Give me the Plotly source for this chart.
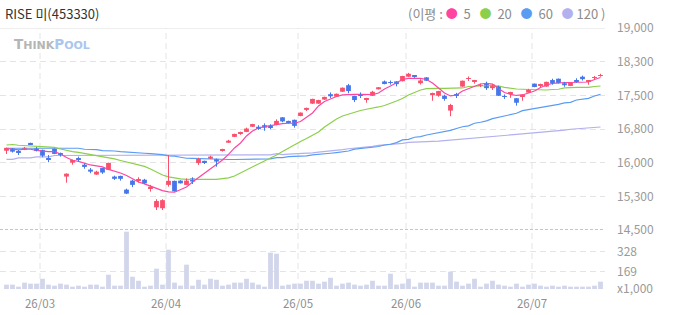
import plotly.graph_objects as go

# ---------------- data ----------------
opens = [16265,16320,16240,16285,16440,16320,16285,16090,16310,16195,
         15690,16000,16100,15955,15845,15735,15880,15840,15690,15705,
         15400,15600,15600,15620,15430,15005,14985,15505,15595,15600,
         15505,15650,15990,16040,16085,16085,16270,16445,16575,16640,
         16685,16800,16800,16835,16820,16840,17010,16930,16955,17040,
         17175,17315,17315,17405,17525,17470,17580,17725,17485,17525,
         17410,17490,17635,17810,17785,17810,17815,17915,17945,17770,
         17900,17515,17490,17490,17160,17530,17695,17870,17805,17710,
         17770,17660,17710,17485,17530,17435,17485,17560,17760,17710,
         17695,17840,17870,17770,17710,17840,17915,17798,17890,17935]
highs = [16335,16325,16285,16350,16445,16350,16290,16170,16315,16225,
         15760,16070,16135,15985,15880,15820,15885,16000,15710,15710,
         15420,15620,15675,15640,15505,15185,15185,16170,15600,15610,
         15650,15675,16110,16045,16155,16090,16310,16510,16645,16690,
         16780,16865,16835,16875,16855,16965,17015,16935,16960,17120,
         17225,17425,17400,17470,17565,17540,17675,17755,17490,17565,
         17445,17600,17685,17830,17830,17815,17935,18000,17950,17860,
         17905,17560,17600,17515,17310,17555,17830,17920,17845,17760,
         17805,17750,17715,17520,17580,17440,17520,17645,17765,17760,
         17805,17870,17875,17800,17780,17880,17940,17825,17930,17980]
lows = [16195,16225,16170,16280,16395,16250,16120,16010,16190,16135,
        15555,15955,16025,15865,15765,15730,15750,15835,15615,15600,
        15300,15455,15555,15520,15355,14945,14945,15465,15355,15535,
        15500,15525,15950,15970,16080,15910,16245,16440,16570,16620,
        16680,16795,16730,16710,16745,16835,16900,16875,16780,17035,
        17150,17310,17310,17400,17440,17465,17575,17545,17350,17440,
        17335,17485,17630,17745,17740,17700,17810,17910,17890,17740,
        17820,17380,17470,17380,17035,17440,17690,17820,17760,17685,
        17620,17620,17485,17420,17445,17270,17380,17555,17680,17665,
        17690,17735,17765,17690,17705,17780,17830,17735,17860,17915]
closes = [16330,16245,16225,16330,16400,16280,16155,16060,16195,16180,
          15755,16060,16075,15905,15800,15800,15780,15995,15640,15640,
          15310,15505,15620,15540,15465,15145,15165,15595,15360,15540,
          15600,15580,16085,16000,16135,16025,16285,16490,16640,16670,
          16760,16860,16765,16780,16790,16930,16920,16880,16820,17115,
          17220,17420,17395,17465,17480,17535,17670,17595,17395,17495,
          17440,17580,17680,17770,17775,17750,17930,17980,17930,17830,
          17825,17545,17595,17420,17285,17485,17825,17885,17840,17730,
          17660,17740,17490,17465,17560,17335,17515,17640,17685,17740,
          17800,17770,17770,17725,17775,17805,17860,17820,17905,17950]
volumes = [66,66,50,82,74,74,113,66,58,74,
           66,50,58,50,66,66,50,145,58,58,
           487,129,97,50,58,193,66,344,82,58,
           225,58,105,66,113,105,58,66,82,82,
           113,82,66,50,320,312,58,66,74,74,
           97,97,74,90,121,58,74,82,66,58,
           66,97,58,58,153,66,74,113,50,82,
           82,82,58,58,169,90,58,74,113,50,
           74,97,66,58,50,74,50,66,74,58,
           50,58,50,58,50,50,50,50,58,90]
ma5 = [16316,16305,16283,16299,16299,16272,16254,16245,16245,16194,
       16116,16054,16027,15982,15949,15927,15905,15849,15816,15771,
       15716,15644,15570,15526,15470,15426,15377,15348,15341,15392,
       15459,15570,15671,15771,15871,15971,16060,16183,16328,16439,
       16595,16706,16773,16802,16829,16855,16869,16878,16878,16918,
       17007,17107,17263,17363,17419,17475,17508,17523,17523,17523,
       17519,17515,17552,17642,17708,17775,17853,17876,17880,17876,
       17853,17775,17664,17552,17486,17508,17597,17653,17708,17753,
       17768,17753,17653,17564,17523,17497,17508,17545,17597,17675,
       17731,17768,17782,17786,17786,17791,17791,17797,17853,17898]
ma20 = [16394,16405,16388,16379,16372,16366,16357,16357,16339,16305,
        16272,16245,16228,16205,16172,16143,16120,16098,16083,16049,
        16016,15982,15949,15916,15860,15793,15726,15682,15653,15637,
        15630,15626,15626,15626,15630,15630,15637,15660,15704,15771,
        15827,15894,15960,16038,16105,16172,16250,16328,16394,16472,
        16539,16606,16684,16795,16884,16973,17040,17085,17123,17163,
        17190,17212,17241,17274,17319,17374,17430,17508,17564,17619,
        17648,17657,17657,17657,17657,17657,17664,17697,17708,17708,
        17713,17713,17708,17679,17657,17641,17635,17630,17626,17619,
        17619,17630,17635,17664,17679,17679,17679,17679,17697,17708]
ma60 = [16321,16321,16321,16321,16321,16321,16321,16321,16321,16321,
        16321,16321,16321,16299,16299,16290,16267,16267,16260,16245,
        16240,16223,16220,16210,16200,16187,16180,16150,16145,16120,
        16098,16095,16090,16076,16070,16070,16070,16070,16070,16070,
        16070,16083,16083,16083,16083,16112,16112,16134,16134,16140,
        16150,16172,16180,16190,16210,16225,16245,16260,16300,16310,
        16320,16343,16360,16394,16410,16446,16506,16520,16566,16580,
        16617,16640,16668,16690,16720,16760,16800,16820,16878,16900,
        16930,16980,17010,17040,17070,17100,17158,17180,17203,17220,
        17247,17275,17300,17330,17345,17397,17410,17434,17486,17523]
ma120 = [16075,16075,16105,16105,16105,16130,16130,16130,16160,16160,
         16160,16160,16160,16160,16160,16160,16160,16160,16160,16160,
         16160,16160,16160,16160,16160,16160,16160,16160,16160,16160,
         16160,16160,16160,16160,16160,16160,16160,16160,16160,16160,
         16175,16175,16175,16175,16175,16200,16180,16190,16195,16205,
         16210,16220,16235,16245,16260,16270,16290,16310,16320,16330,
         16345,16365,16385,16395,16400,16410,16430,16450,16460,16465,
         16470,16475,16480,16490,16505,16521,16530,16544,16550,16560,
         16566,16580,16595,16605,16617,16630,16640,16655,16669,16680,
         16691,16700,16713,16725,16744,16755,16766,16775,16789,16795]

month_idx = [6, 27, 49, 67, 88]
month_text = ["26/03", "26/04", "26/05", "26/06", "26/07"]
price_ticks = [14500, 15250, 16000, 16750, 17500, 18250, 19000]
price_text = ["14,500", "15,300", "16,000", "16,800", "17,500", "18,300", "19,000"]
vol_ticks = [31.5, 169, 328]
vol_text = ["x1,000", "169", "328"]

# ---------------- styling ----------------
UP = "#f9506b"
DOWN = "#4677ea"
C5, C20, C60, C120 = "#ff45a0", "#8ccf4a", "#5b9cf3", "#b2b0ef"
FONT = "Noto Sans CJK KR"
GRID = "#e4e4e4"

n = len(closes)
xs = list(range(n))

fig = go.Figure()

# moving averages
for vals, col in [(ma120, C120), (ma60, C60), (ma20, C20), (ma5, C5)]:
    fig.add_trace(go.Scatter(x=xs, y=vals, mode="lines",
                             line=dict(color=col, width=1.2),
                             hoverinfo="skip", showlegend=False,
                             xaxis="x", yaxis="y"))

# wicks
for want_up, col in [(True, UP), (False, DOWN)]:
    wx, wy = [], []
    for i in xs:
        up = closes[i] >= opens[i]
        if up == want_up:
            wx += [i, i, None]
            wy += [lows[i], highs[i], None]
    fig.add_trace(go.Scatter(x=wx, y=wy, mode="lines",
                             line=dict(color=col, width=1),
                             hoverinfo="skip", showlegend=False,
                             xaxis="x", yaxis="y"))

# bodies
body_base = [min(o, c) for o, c in zip(opens, closes)]
body_h = [abs(c - o) for o, c in zip(opens, closes)]
body_col = [UP if c >= o else DOWN for o, c in zip(opens, closes)]
fig.add_trace(go.Bar(x=xs, y=body_h, base=body_base, width=0.8,
                     marker=dict(color=body_col, line=dict(width=0)),
                     hoverinfo="skip", showlegend=False,
                     xaxis="x", yaxis="y"))

# volume
fig.add_trace(go.Bar(x=xs, y=volumes, width=0.8,
                     marker=dict(color="#d2d6ea", line=dict(width=0)),
                     hoverinfo="skip", showlegend=False,
                     xaxis="x", yaxis="y2"))

split = (289 - 230) / 261.0

shapes = []
for m in month_idx:
    shapes.append(dict(type="line", xref="x", yref="paper",
                       x0=m - 2.5 / 6, x1=m - 2.5 / 6, y0=0, y1=1,
                       line=dict(color=GRID, width=1, dash="6px,4px"),
                       layer="below"))
shapes.append(dict(type="line", xref="paper", yref="y", x0=0, x1=1,
                   y0=14500, y1=14500,
                   line=dict(color="#8a8a8a", width=1, dash="3px,2px")))
shapes.append(dict(type="line", xref="paper", yref="y", x0=0, x1=1,
                   y0=19000, y1=19000,
                   line=dict(color="#dedede", width=1)))

def dot(c):
    return "<span style='color:%s;font-size:12px'>●</span>" % c

SP = "&nbsp;"
legend_txt = ("(이평 :" + SP + dot(C5) + SP * 2 + "5" + SP * 3
              + dot(C20) + SP * 2 + "20" + SP * 3
              + dot(C60) + SP * 2 + "60" + SP * 3
              + dot(C120) + SP + "120 )")

annotations = [
    dict(text="RISE 미(453330)", xref="paper", yref="paper",
         x=3 / 605, y=1 + 14.5 / 261, xanchor="left", yanchor="middle",
         showarrow=False, font=dict(family=FONT, size=13, color="#333333")),
    dict(text=legend_txt, xref="paper", yref="paper",
         x=1.003, y=1 + 14.5 / 261, xanchor="right", yanchor="middle",
         showarrow=False, font=dict(family=FONT, size=13, color="#8c8c8c")),
    dict(text="<b>T<span style='font-size:11px'>HINK</span>"
              "<span style='color:#aac6ee'>P<span style='font-size:11px'>OOL</span></span></b>",
         xref="paper", yref="paper", x=12 / 605, y=1 - 16 / 261,
         xanchor="left", yanchor="middle", showarrow=False,
         font=dict(family="DejaVu Sans", size=13.5, color="#b5b5b5")),
]

fig.update_layout(
    width=673, height=315,
    margin=dict(l=0, r=68, t=28, b=26, autoexpand=False),
    paper_bgcolor="white", plot_bgcolor="white",
    font=dict(family=FONT, size=12, color="#999999"),
    showlegend=False, barmode="overlay", hovermode=False,
    xaxis=dict(range=[-6.5 / 6, (605 - 6.5) / 6], anchor="y2",
               tickmode="array", tickvals=[m - 2.5 / 6 for m in month_idx],
               ticktext=month_text, showgrid=False, zeroline=False,
               showline=False, ticks="", ticklabelstandoff=6,
               tickfont=dict(family=FONT, size=11.5, color="#8f8f8f")),
    yaxis=dict(domain=[split, 1], range=[14500, 19000], side="right",
               anchor="x", tickmode="array", tickvals=price_ticks,
               ticktext=price_text, showgrid=True, gridcolor=GRID,
               griddash="6px,4px", zeroline=False, showline=False,
               ticks="", ticklabelstandoff=11,
               tickfont=dict(family=FONT, size=12, color="#9a9a9a")),
    yaxis2=dict(domain=[0, split], range=[31.5, 500.5], side="right",
                anchor="x", tickmode="array", tickvals=vol_ticks,
                ticktext=vol_text, showgrid=True, gridcolor=GRID,
                griddash="6px,4px", zeroline=False, showline=False,
                ticks="", ticklabelstandoff=11,
                tickfont=dict(family=FONT, size=12, color="#9a9a9a")),
    shapes=shapes, annotations=annotations,
)

fig.write_html("out.html")
